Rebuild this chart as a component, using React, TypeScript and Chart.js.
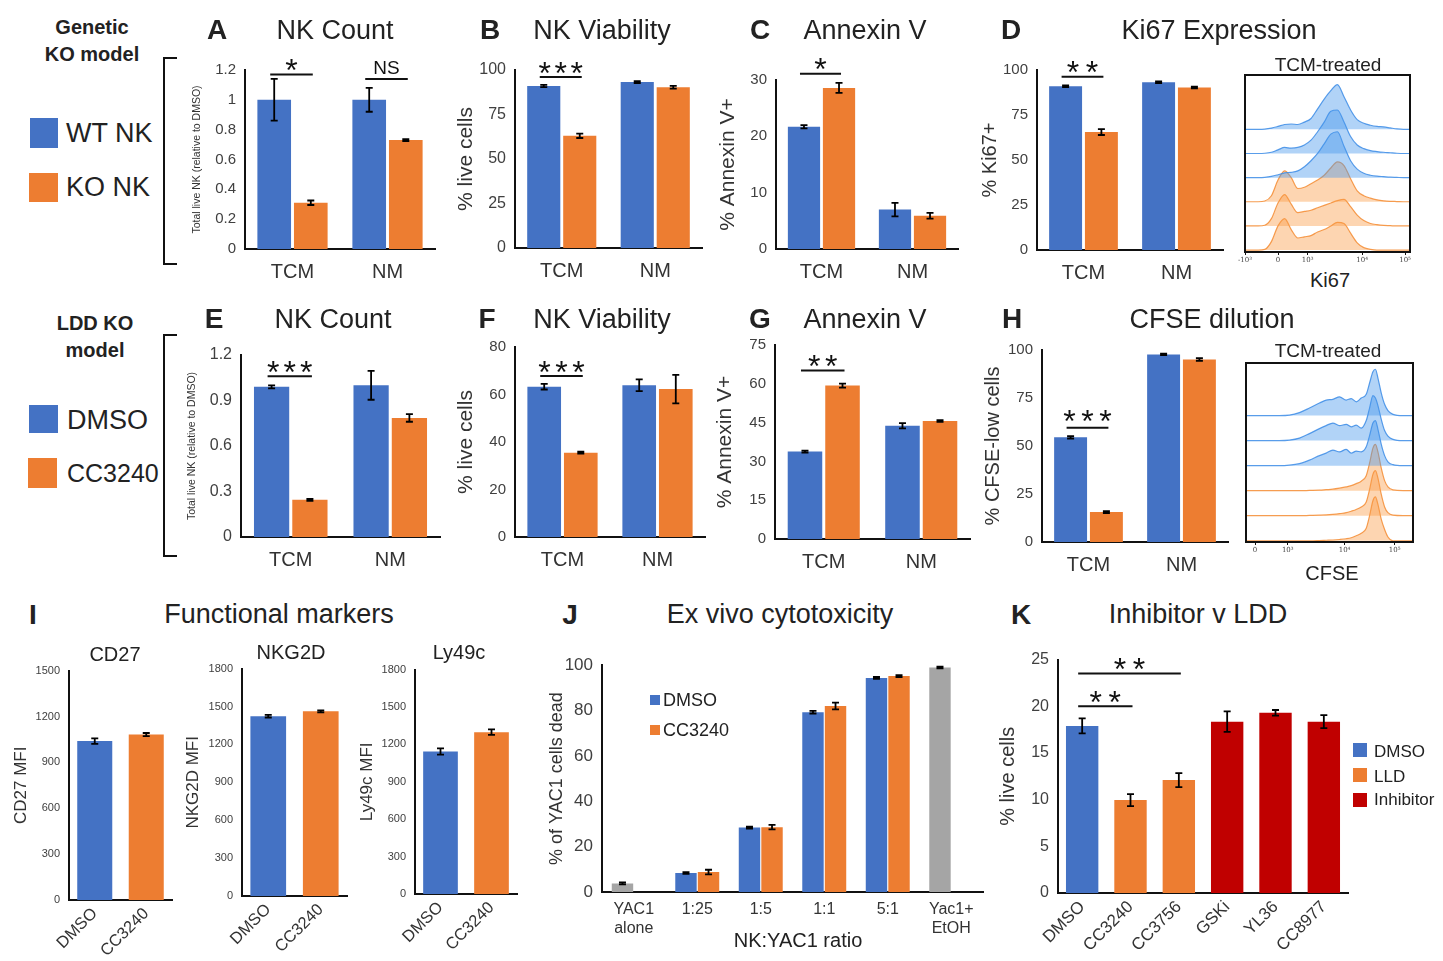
import React, { useEffect, useRef } from "react";
import { Chart, registerables } from "chart.js";

Chart.register(...registerables);
const FONT = "'Liberation Sans', Arial, Helvetica, sans-serif";
Chart.defaults.font.family = FONT;

const BLUE = "#4472C4";
const ORANGE = "#ED7D31";
const RED = "#C00000";
const GRAY = "#A5A5A5";
const INK = "#222222";
const TICK = "#404040";

// ---------------- data ----------------
const condCats = ["TCM", "NM"];

// A – NK count (genetic KO)
const aWT = [1.0, 1.0];
const aWTErr = [0.14, 0.08];
const aKO = [0.31, 0.73];
const aKOErr = [0.015, 0.006];
// B – NK viability
const bWT = [91, 93.2];
const bWTErr = [0.6, 0.5];
const bKO = [63, 90.3];
const bKOErr = [1.2, 0.8];
// C – Annexin V
const cWT = [21.7, 7.0];
const cWTErr = [0.3, 1.2];
const cKO = [28.6, 5.9];
const cKOErr = [0.9, 0.5];
// D – Ki67
const dWT = [91, 93.2];
const dWTErr = [0.5, 0.5];
const dKO = [65.5, 90.3];
const dKOErr = [1.6, 0.5];
// E – NK count (LDD)
const eDMSO = [0.99, 1.0];
const eDMSOErr = [0.01, 0.095];
const eCC = [0.245, 0.785];
const eCCErr = [0.006, 0.025];
// F – NK viability
const fDMSO = [63.3, 63.9];
const fDMSOErr = [1.2, 2.5];
const fCC = [35.5, 62.3];
const fCCErr = [0.4, 6.0];
// G – Annexin V
const gDMSO = [33.8, 43.8];
const gDMSOErr = [0.4, 1.0];
const gCC = [59.3, 45.6];
const gCCErr = [0.8, 0.3];
// H – CFSE-low
const hDMSO = [54.5, 97.7];
const hDMSOErr = [0.6, 0.4];
const hCC = [15.6, 95.1];
const hCCErr = [0.5, 0.7];
// I – functional markers
const markerCats = ["DMSO", "CC3240"];
const cd27 = [1039, 1082];
const cd27Err = [18, 10];
const nkg2d = [1423, 1462];
const nkg2dErr = [10, 8];
const ly49c = [1143, 1298];
const ly49cErr = [25, 22];
// J – cytotoxicity (first and last entries of jDMSO are the controls, drawn grey)
const ratioCats: (string | string[])[] = [["YAC1", "alone"], "1:25", "1:5", "1:1", "5:1", ["Yac1+", "EtOH"]];
const jDMSO = [3.8, 8.4, 28.4, 79.3, 94.4, 99.0];
const jDMSOErr = [0.4, 0.4, 0.4, 0.6, 0.4, 0.4];
const jCC = [null, 8.8, 28.6, 82.0, 95.2, null];
const jCCErr = [null, 1.0, 1.0, 1.5, 0.4, null];
const jColors = [GRAY, BLUE, BLUE, BLUE, BLUE, GRAY];
// K – inhibitor v LDD
const kCats = ["DMSO", "CC3240", "CC3756", "GSKi", "YL36", "CC8977"];
const kVals = [17.9, 9.95, 12.1, 18.35, 19.3, 18.35];
const kErr = [0.8, 0.65, 0.75, 1.1, 0.3, 0.7];
const kColors = [BLUE, ORANGE, ORANGE, RED, RED, RED];

// Histograms (display channel 0..100, heights in row units)
const ki67X = [0, 8, 12, 16, 20, 24, 28, 32, 36, 40, 44, 48, 52, 56, 60, 64, 68, 72, 76, 80, 84, 88, 92, 96, 100];
const ki67Blue1 = [0, 0, 0.01, 0.05, 0.12, 0.2, 0.22, 0.2, 0.3, 0.45, 0.85, 1.25, 1.6, 1.85, 1.35, 0.8, 0.4, 0.25, 0.17, 0.12, 0.1, 0.06, 0.02, 0, 0];
const ki67Blue2 = [0, 0, 0.01, 0.05, 0.15, 0.25, 0.22, 0.25, 0.35, 0.55, 0.9, 1.3, 1.75, 1.8, 1.3, 0.7, 0.35, 0.2, 0.12, 0.08, 0.05, 0.03, 0.01, 0, 0];
const ki67Blue3 = [0, 0, 0.01, 0.05, 0.12, 0.2, 0.22, 0.28, 0.45, 0.7, 1.0, 1.4, 1.8, 1.9, 1.3, 0.7, 0.35, 0.18, 0.1, 0.06, 0.04, 0.02, 0.01, 0, 0];
const ki67Orange1 = [0, 0, 0.03, 0.25, 0.9, 1.28, 1.0, 0.55, 0.6, 0.75, 0.9, 1.1, 1.4, 1.65, 1.5, 0.95, 0.45, 0.25, 0.15, 0.08, 0.04, 0.02, 0.01, 0, 0];
const ki67Orange2 = [0, 0, 0.03, 0.3, 0.95, 1.3, 0.9, 0.55, 0.6, 0.65, 0.75, 0.85, 0.95, 1.05, 1.1, 0.8, 0.45, 0.22, 0.1, 0.05, 0.02, 0.01, 0, 0, 0];
const ki67Orange3 = [0, 0, 0.03, 0.35, 1.0, 1.3, 0.85, 0.5, 0.55, 0.6, 0.75, 0.85, 1.0, 1.15, 1.1, 0.7, 0.3, 0.1, 0.03, 0, 0, 0, 0, 0, 0];
const ki67TickPos = [0, 20, 38, 71, 97];
const ki67TickLabels = ["-10³", "0", "10³", "10⁴", "10⁵"];

const cfseX = [0, 10, 20, 26, 32, 38, 44, 48, 52, 56, 60, 63, 66, 69, 72, 74, 76, 77.5, 79, 81, 83, 85, 88, 94, 100];
const cfseBlue1 = [0, 0, 0, 0.02, 0.12, 0.3, 0.5, 0.62, 0.65, 0.75, 0.62, 0.68, 0.55, 0.7, 0.85, 1.3, 1.75, 1.85, 1.5, 0.9, 0.45, 0.2, 0.05, 0, 0];
const cfseBlue2 = [0, 0, 0, 0.02, 0.1, 0.28, 0.48, 0.6, 0.7, 0.6, 0.65, 0.55, 0.62, 0.5, 0.8, 1.3, 1.8, 1.7, 1.4, 0.85, 0.4, 0.18, 0.05, 0, 0];
const cfseBlue3 = [0, 0, 0, 0.02, 0.08, 0.22, 0.4, 0.5, 0.62, 0.55, 0.65, 0.5, 0.58, 0.55, 0.75, 1.2, 1.7, 1.8, 1.45, 0.85, 0.4, 0.15, 0.04, 0, 0];
const cfseOrange1 = [0, 0, 0, 0, 0, 0.01, 0.02, 0.04, 0.06, 0.1, 0.15, 0.2, 0.28, 0.38, 0.6, 1.1, 1.7, 1.85, 1.55, 0.9, 0.4, 0.15, 0.03, 0, 0];
const cfseOrange2 = [0, 0, 0, 0, 0, 0.01, 0.02, 0.03, 0.05, 0.08, 0.12, 0.18, 0.25, 0.35, 0.55, 1.05, 1.65, 1.8, 1.5, 0.85, 0.35, 0.12, 0.02, 0, 0];
const cfseOrange3 = [0, 0, 0, 0, 0, 0, 0.01, 0.02, 0.03, 0.05, 0.08, 0.12, 0.2, 0.3, 0.5, 1.0, 1.6, 1.75, 1.45, 0.85, 0.45, 0.15, 0, 0, 0];
const cfseTickPos = [5.4, 25, 59, 89];
const cfseTickLabels = ["0", "10³", "10⁴", "10⁵"];

// ---------------- types ----------------
type DS = { data: (number | null)[]; errors: (number | null)[]; colors: string | string[] };
type Sig = { c1: number; d1: number; c2: number; d2: number; v: number; stars?: number; text?: string; fs?: number; gap?: number; spacing?: number };
type BarSpec = {
  plot: [number, number, number, number];
  yTitle: string;
  yTitleX: number;
  yTitleSize: number;
  min: number;
  max: number;
  step: number;
  tickSize: number;
  cats: (string | string[])[];
  catSize: number;
  catPad: number;
  xH: number;
  rotate?: boolean;
  datasets: DS[];
  catPct: number;
  barPct: number;
  sigs?: Sig[];
  padTop?: number;
};

function fmt(v: number) {
  return String(Number(Number(v).toFixed(2)));
}

function BarChart({ spec }: { spec: BarSpec }) {
  const ref = useRef<HTMLCanvasElement>(null);
  const [L, T, R, B] = spec.plot;
  const padTop = spec.padTop ?? 40;
  const padRight = 8;
  const cl = Math.round(spec.yTitleX - 0.6 * spec.yTitleSize);
  const ct = T - padTop;
  const w = R - cl + padRight;
  const h = B - ct + spec.xH;
  const yW = L - cl;

  useEffect(() => {
    const errPlugin = {
      id: "errbars",
      afterDatasetsDraw(chart: any) {
        const ctx = chart.ctx;
        const ys = chart.scales.y;
        chart.data.datasets.forEach((ds: any, di: number) => {
          const meta = chart.getDatasetMeta(di);
          meta.data.forEach((el: any, i: number) => {
            const v = ds.data[i];
            const e = ds.errors ? ds.errors[i] : null;
            if (v == null || e == null) return;
            const y1 = ys.getPixelForValue(v + e);
            const y2 = ys.getPixelForValue(v - e);
            ctx.save();
            ctx.strokeStyle = "#000";
            ctx.lineWidth = 1.8;
            ctx.beginPath();
            ctx.moveTo(el.x, y1);
            ctx.lineTo(el.x, y2);
            ctx.moveTo(el.x - 3.5, y1);
            ctx.lineTo(el.x + 3.5, y1);
            ctx.moveTo(el.x - 3.5, y2);
            ctx.lineTo(el.x + 3.5, y2);
            ctx.stroke();
            ctx.restore();
          });
        });
      },
    };
    const sigPlugin = {
      id: "sigs",
      afterDraw(chart: any) {
        const ctx = chart.ctx;
        const ys = chart.scales.y;
        (spec.sigs || []).forEach((s) => {
          const x1 = chart.getDatasetMeta(s.d1).data[s.c1].x - 4;
          const x2 = chart.getDatasetMeta(s.d2).data[s.c2].x + 2;
          const y = ys.getPixelForValue(s.v);
          ctx.save();
          ctx.strokeStyle = "#111";
          ctx.lineWidth = 2;
          ctx.beginPath();
          ctx.moveTo(x1, y);
          ctx.lineTo(x2, y);
          ctx.stroke();
          const gap = s.gap ?? 12;
          const cx = (x1 + x2) / 2;
          ctx.fillStyle = "#111";
          ctx.textAlign = "center";
          ctx.textBaseline = "alphabetic";
          if (s.stars) {
            const fs = s.fs ?? 32;
            ctx.font = `${fs}px ${FONT}`;
            const sp = s.spacing ?? 17;
            for (let k = 0; k < s.stars; k++) {
              ctx.fillText("*", cx + (k - (s.stars - 1) / 2) * sp, y - gap + 0.58 * fs);
            }
          } else if (s.text) {
            const fs = s.fs ?? 19;
            ctx.font = `${fs}px ${FONT}`;
            ctx.fillText(s.text, cx, y - gap + 0.36 * fs);
          }
          ctx.restore();
        });
      },
    };
    const chart = new Chart(ref.current as HTMLCanvasElement, {
      type: "bar",
      data: {
        labels: spec.cats as any,
        datasets: spec.datasets.map((d) => ({
          data: d.data as any,
          errors: d.errors,
          backgroundColor: d.colors as any,
          borderWidth: 0,
          categoryPercentage: spec.catPct,
          barPercentage: spec.barPct,
        })) as any,
      },
      options: {
        responsive: false,
        animation: false,
        devicePixelRatio: 1,
        layout: { padding: { top: padTop, right: padRight, left: 0, bottom: 0 } },
        plugins: { legend: { display: false }, tooltip: { enabled: false } },
        scales: {
          x: {
            grid: { display: false, drawTicks: false },
            border: { display: true, color: "#111", width: 2 },
            ticks: {
              color: "#333",
              font: { size: spec.catSize },
              padding: spec.catPad,
              maxRotation: spec.rotate ? 45 : 0,
              minRotation: spec.rotate ? 45 : 0,
              autoSkip: false,
            },
            afterFit: (s: any) => {
              s.height = spec.xH;
            },
          },
          y: {
            min: spec.min,
            max: spec.max,
            grid: { display: false, drawTicks: false },
            border: { display: true, color: "#111", width: 2 },
            ticks: {
              stepSize: spec.step,
              color: TICK,
              font: { size: spec.tickSize },
              padding: 9,
              callback: (v: any) => fmt(v),
            },
            title: {
              display: true,
              text: spec.yTitle,
              color: "#333",
              font: { size: spec.yTitleSize },
              padding: 0,
            },
            afterFit: (s: any) => {
              s.width = yW;
            },
          },
        },
      } as any,
      plugins: [errPlugin, sigPlugin],
    });
    return () => chart.destroy();
  }, []);

  return <canvas ref={ref} width={w} height={h} style={{ position: "absolute", left: cl, top: ct, width: w, height: h }} />;
}

type Curve = { base: number; ys: number[]; color: "blue" | "orange" };
type HistSpec = {
  box: [number, number, number, number];
  xs: number[];
  curves: Curve[];
  ymin: number;
  ymax: number;
  tickPos: number[];
  tickLabels: string[];
};

function HistChart({ spec }: { spec: HistSpec }) {
  const ref = useRef<HTMLCanvasElement>(null);
  const [L, T, R, B] = spec.box;
  const padX = 12;
  const padTop = 4;
  const xH = 16;
  const cl = L - padX;
  const ct = T - padTop;
  const w = R - L + 2 * padX;
  const h = B - T + padTop + xH;

  useEffect(() => {
    const boxPlugin = {
      id: "box",
      afterDraw(chart: any) {
        const a = chart.chartArea;
        const ctx = chart.ctx;
        ctx.save();
        ctx.strokeStyle = "#111";
        ctx.lineWidth = 2;
        ctx.strokeRect(a.left, a.top, a.right - a.left, a.bottom - a.top);
        ctx.restore();
      },
    };
    const chart = new Chart(ref.current as HTMLCanvasElement, {
      type: "line",
      data: {
        datasets: spec.curves.map((c) => ({
          data: spec.xs.map((x, i) => ({ x, y: c.base + c.ys[i] })),
          fill: { value: c.base },
          borderColor: c.color === "blue" ? "rgba(60,140,230,0.85)" : "rgba(245,140,50,0.85)",
          backgroundColor: c.color === "blue" ? "rgba(70,150,235,0.42)" : "rgba(250,155,70,0.42)",
          borderWidth: 1.2,
          pointRadius: 0,
          cubicInterpolationMode: "monotone",
        })) as any,
      },
      options: {
        responsive: false,
        animation: false,
        devicePixelRatio: 1,
        layout: { padding: { top: padTop, left: padX, right: padX, bottom: 0 } },
        plugins: { legend: { display: false }, tooltip: { enabled: false } },
        scales: {
          x: {
            type: "linear",
            min: 0,
            max: 100,
            grid: { drawOnChartArea: false, drawTicks: true, tickLength: 3, color: "#111" },
            border: { display: false },
            afterBuildTicks: (s: any) => {
              s.ticks = spec.tickPos.map((v) => ({ value: v }));
            },
            ticks: {
              color: "#444",
              font: { size: 7, family: "'DejaVu Serif', serif" },
              padding: 1,
              maxRotation: 0,
              autoSkip: false,
              callback: (_v: any, i: number) => spec.tickLabels[i],
            },
            afterFit: (s: any) => {
              s.height = xH;
            },
          },
          y: { display: false, min: spec.ymin, max: spec.ymax },
        },
      } as any,
      plugins: [boxPlugin],
    });
    return () => chart.destroy();
  }, []);

  return <canvas ref={ref} width={w} height={h} style={{ position: "absolute", left: cl, top: ct, width: w, height: h }} />;
}

function Txt(props: { x: number; y: number; s: number; b?: boolean; left?: boolean; children: React.ReactNode }) {
  return (
    <div
      style={{
        position: "absolute",
        left: props.x,
        top: props.y,
        transform: props.left ? "translate(0,-50%)" : "translate(-50%,-50%)",
        fontFamily: FONT,
        fontSize: props.s,
        fontWeight: props.b ? 700 : 400,
        color: INK,
        whiteSpace: "nowrap",
        lineHeight: 1,
      }}
    >
      {props.children}
    </div>
  );
}

function Sq(props: { x: number; y: number; w: number; h: number; c: string }) {
  return <div style={{ position: "absolute", left: props.x, top: props.y, width: props.w, height: props.h, background: props.c }} />;
}

function Bracket(props: { x: number; y: number; h: number }) {
  return (
    <div
      style={{
        position: "absolute",
        left: props.x,
        top: props.y,
        width: 14,
        height: props.h,
        borderLeft: "2px solid #111",
        borderTop: "2px solid #111",
        borderBottom: "2px solid #111",
        boxSizing: "border-box",
      }}
    />
  );
}

const row1Common = { cats: condCats, catSize: 20, catPad: 11, xH: 40, catPct: 0.77, barPct: 0.92 };

const specA: BarSpec = {
  ...row1Common,
  plot: [245, 70, 435, 249],
  yTitle: "Total live NK (relative to DMSO)",
  yTitleX: 197,
  yTitleSize: 10.5,
  min: 0,
  max: 1.2,
  step: 0.2,
  tickSize: 15,
  datasets: [
    { data: aWT, errors: aWTErr, colors: BLUE },
    { data: aKO, errors: aKOErr, colors: ORANGE },
  ],
  sigs: [
    { c1: 0, d1: 0, c2: 0, d2: 1, v: 1.17, stars: 1 },
    { c1: 1, d1: 0, c2: 1, d2: 1, v: 1.14, text: "NS" },
  ],
};
const specB: BarSpec = {
  ...row1Common,
  plot: [515, 70, 702, 248],
  yTitle: "% live cells",
  yTitleX: 467,
  yTitleSize: 21,
  min: 0,
  max: 100,
  step: 25,
  tickSize: 16,
  datasets: [
    { data: bWT, errors: bWTErr, colors: BLUE },
    { data: bKO, errors: bKOErr, colors: ORANGE },
  ],
  sigs: [{ c1: 0, d1: 0, c2: 0, d2: 1, v: 96, stars: 3, spacing: 16 }],
};
const specC: BarSpec = {
  ...row1Common,
  plot: [776, 80, 958, 249],
  yTitle: "% Annexin V+",
  yTitleX: 729,
  yTitleSize: 21,
  min: 0,
  max: 30,
  step: 10,
  tickSize: 15,
  datasets: [
    { data: cWT, errors: cWTErr, colors: BLUE },
    { data: cKO, errors: cKOErr, colors: ORANGE },
  ],
  sigs: [{ c1: 0, d1: 0, c2: 0, d2: 1, v: 31.1, stars: 1 }],
};
const specD: BarSpec = {
  ...row1Common,
  plot: [1037, 70, 1223, 250],
  yTitle: "% Ki67+",
  yTitleX: 990,
  yTitleSize: 20,
  min: 0,
  max: 100,
  step: 25,
  tickSize: 15,
  datasets: [
    { data: dWT, errors: dWTErr, colors: BLUE },
    { data: dKO, errors: dKOErr, colors: ORANGE },
  ],
  sigs: [{ c1: 0, d1: 0, c2: 0, d2: 1, v: 96.3, stars: 2, spacing: 19 }],
};
const specE: BarSpec = {
  ...row1Common,
  plot: [241, 355, 440, 537],
  yTitle: "Total live NK (relative to DMSO)",
  yTitleX: 192,
  yTitleSize: 10.5,
  min: 0,
  max: 1.2,
  step: 0.3,
  tickSize: 16,
  datasets: [
    { data: eDMSO, errors: eDMSOErr, colors: BLUE },
    { data: eCC, errors: eCCErr, colors: ORANGE },
  ],
  sigs: [{ c1: 0, d1: 0, c2: 0, d2: 1, v: 1.06, stars: 3, spacing: 16.5 }],
};
const specF: BarSpec = {
  ...row1Common,
  plot: [515, 347, 705, 537],
  yTitle: "% live cells",
  yTitleX: 467,
  yTitleSize: 21,
  min: 0,
  max: 80,
  step: 20,
  tickSize: 15,
  datasets: [
    { data: fDMSO, errors: fDMSOErr, colors: BLUE },
    { data: fCC, errors: fCCErr, colors: ORANGE },
  ],
  sigs: [{ c1: 0, d1: 0, c2: 0, d2: 1, v: 67.8, stars: 3, spacing: 17 }],
};
const specG: BarSpec = {
  ...row1Common,
  plot: [775, 345, 970, 539],
  yTitle: "% Annexin V+",
  yTitleX: 726,
  yTitleSize: 21,
  min: 0,
  max: 75,
  step: 15,
  tickSize: 15,
  datasets: [
    { data: gDMSO, errors: gDMSOErr, colors: BLUE },
    { data: gCC, errors: gCCErr, colors: ORANGE },
  ],
  sigs: [{ c1: 0, d1: 0, c2: 0, d2: 1, v: 65.1, stars: 2, spacing: 17 }],
};
const specH: BarSpec = {
  ...row1Common,
  plot: [1042, 350, 1228, 542],
  yTitle: "% CFSE-low cells",
  yTitleX: 993,
  yTitleSize: 20,
  min: 0,
  max: 100,
  step: 25,
  tickSize: 15,
  datasets: [
    { data: hDMSO, errors: hDMSOErr, colors: BLUE },
    { data: hCC, errors: hCCErr, colors: ORANGE },
  ],
  sigs: [{ c1: 0, d1: 0, c2: 0, d2: 1, v: 59.5, stars: 3, spacing: 18, gap: 14 }],
};

const markerCommon = { cats: markerCats, catSize: 16.5, catPad: 4, xH: 61, rotate: true, catPct: 1, barPct: 0.68, yTitleSize: 17, tickSize: 11, padTop: 12 };
const specCD27: BarSpec = {
  ...markerCommon,
  plot: [69, 667, 172, 900],
  yTitle: "CD27 MFI",
  yTitleX: 21,
  min: 0,
  max: 1500,
  step: 300,
  datasets: [{ data: cd27, errors: cd27Err, colors: [BLUE, ORANGE] }],
};
const specNKG2D: BarSpec = {
  ...markerCommon,
  plot: [242, 665, 347, 896],
  yTitle: "NKG2D MFI",
  yTitleX: 193,
  min: 0,
  max: 1800,
  step: 300,
  datasets: [{ data: nkg2d, errors: nkg2dErr, colors: [BLUE, ORANGE] }],
};
const specLy49c: BarSpec = {
  ...markerCommon,
  plot: [415, 666, 517, 894],
  yTitle: "Ly49c MFI",
  yTitleX: 367,
  min: 0,
  max: 1800,
  step: 300,
  datasets: [{ data: ly49c, errors: ly49cErr, colors: [BLUE, ORANGE] }],
};
const specJ: BarSpec = {
  plot: [602, 660, 983, 892],
  yTitle: "% of YAC1 cells dead",
  yTitleX: 557,
  yTitleSize: 18,
  min: 0,
  max: 100,
  step: 20,
  tickSize: 17,
  cats: ratioCats,
  catSize: 16,
  catPad: 8,
  xH: 68,
  catPct: 0.71,
  barPct: 0.95,
  padTop: 14,
  datasets: [
    { data: jDMSO, errors: jDMSOErr, colors: jColors },
    { data: jCC, errors: jCCErr, colors: ORANGE },
  ],
};
const specK: BarSpec = {
  plot: [1058, 655, 1348, 893],
  yTitle: "% live cells",
  yTitleX: 1008,
  yTitleSize: 20,
  min: 0,
  max: 25,
  step: 5,
  tickSize: 16,
  cats: kCats,
  catSize: 17,
  catPad: 4,
  xH: 68,
  rotate: true,
  catPct: 1,
  barPct: 0.67,
  padTop: 14,
  datasets: [{ data: kVals, errors: kErr, colors: kColors }],
  sigs: [
    { c1: 0, d1: 0, c2: 1, d2: 0, v: 20.0, stars: 2, spacing: 19 },
    { c1: 0, d1: 0, c2: 2, d2: 0, v: 23.5, stars: 2, spacing: 19 },
  ],
};

const histKi67: HistSpec = {
  box: [1245, 75, 1410, 252],
  xs: ki67X,
  curves: [
    { base: 5, ys: ki67Blue1, color: "blue" },
    { base: 4, ys: ki67Blue2, color: "blue" },
    { base: 3, ys: ki67Blue3, color: "blue" },
    { base: 2, ys: ki67Orange1, color: "orange" },
    { base: 1, ys: ki67Orange2, color: "orange" },
    { base: 0, ys: ki67Orange3, color: "orange" },
  ],
  ymin: -0.08,
  ymax: 7.25,
  tickPos: ki67TickPos,
  tickLabels: ki67TickLabels,
};
const histCFSE: HistSpec = {
  box: [1246, 363, 1413, 542],
  xs: cfseX,
  curves: [
    { base: 5, ys: cfseBlue1, color: "blue" },
    { base: 4, ys: cfseBlue2, color: "blue" },
    { base: 3, ys: cfseBlue3, color: "blue" },
    { base: 2, ys: cfseOrange1, color: "orange" },
    { base: 1, ys: cfseOrange2, color: "orange" },
    { base: 0, ys: cfseOrange3, color: "orange" },
  ],
  ymin: -0.05,
  ymax: 7.1,
  tickPos: cfseTickPos,
  tickLabels: cfseTickLabels,
};

export default function App() {
  return (
    <div style={{ position: "absolute", left: 0, top: 0, width: 1443, height: 961, background: "#fff", overflow: "hidden" }}>
      <BarChart spec={specA} />
      <BarChart spec={specB} />
      <BarChart spec={specC} />
      <BarChart spec={specD} />
      <HistChart spec={histKi67} />
      <BarChart spec={specE} />
      <BarChart spec={specF} />
      <BarChart spec={specG} />
      <BarChart spec={specH} />
      <HistChart spec={histCFSE} />
      <BarChart spec={specCD27} />
      <BarChart spec={specNKG2D} />
      <BarChart spec={specLy49c} />
      <BarChart spec={specJ} />
      <BarChart spec={specK} />

      {/* Row 1 */}
      <Txt x={92} y={27} s={20} b>Genetic</Txt>
      <Txt x={92} y={54} s={20} b>KO model</Txt>
      <Bracket x={163} y={57} h={208} />
      <Sq x={30} y={118} w={28} h={30} c={BLUE} />
      <Txt x={66} y={133} s={27} left>WT NK</Txt>
      <Sq x={29} y={173} w={29} h={29} c={ORANGE} />
      <Txt x={66} y={187} s={27} left>KO NK</Txt>
      <Txt x={217} y={30} s={28} b>A</Txt>
      <Txt x={335} y={30} s={27}>NK Count</Txt>
      <Txt x={490} y={30} s={28} b>B</Txt>
      <Txt x={602} y={30} s={27}>NK Viability</Txt>
      <Txt x={760} y={30} s={28} b>C</Txt>
      <Txt x={865} y={30} s={27}>Annexin V</Txt>
      <Txt x={1011} y={30} s={28} b>D</Txt>
      <Txt x={1219} y={30} s={27}>Ki67 Expression</Txt>
      <Txt x={1328} y={64} s={19}>TCM-treated</Txt>
      <Txt x={1330} y={280} s={20}>Ki67</Txt>

      {/* Row 2 */}
      <Txt x={95} y={323} s={20} b>LDD KO</Txt>
      <Txt x={95} y={350} s={20} b>model</Txt>
      <Bracket x={163} y={334} h={223} />
      <Sq x={29} y={405} w={29} h={28} c={BLUE} />
      <Txt x={67} y={420} s={27} left>DMSO</Txt>
      <Sq x={28} y={458} w={29} h={30} c={ORANGE} />
      <Txt x={67} y={473} s={25} left>CC3240</Txt>
      <Txt x={214} y={319} s={28} b>E</Txt>
      <Txt x={333} y={319} s={27}>NK Count</Txt>
      <Txt x={487} y={319} s={28} b>F</Txt>
      <Txt x={602} y={319} s={27}>NK Viability</Txt>
      <Txt x={760} y={319} s={28} b>G</Txt>
      <Txt x={865} y={319} s={27}>Annexin V</Txt>
      <Txt x={1012} y={319} s={28} b>H</Txt>
      <Txt x={1212} y={319} s={27}>CFSE dilution</Txt>
      <Txt x={1328} y={350} s={19}>TCM-treated</Txt>
      <Txt x={1332} y={573} s={20}>CFSE</Txt>

      {/* Row 3 */}
      <Txt x={33} y={615} s={28} b>I</Txt>
      <Txt x={279} y={614} s={27}>Functional markers</Txt>
      <Txt x={115} y={654} s={20}>CD27</Txt>
      <Txt x={291} y={652} s={20}>NKG2D</Txt>
      <Txt x={459} y={652} s={20}>Ly49c</Txt>
      <Txt x={570} y={615} s={28} b>J</Txt>
      <Txt x={780} y={614} s={27}>Ex vivo cytotoxicity</Txt>
      <Txt x={798} y={940} s={20}>NK:YAC1 ratio</Txt>
      <Sq x={650} y={695} w={10} h={10} c={BLUE} />
      <Txt x={663} y={700} s={18} left>DMSO</Txt>
      <Sq x={650} y={725} w={10} h={10} c={ORANGE} />
      <Txt x={663} y={730} s={18} left>CC3240</Txt>
      <Txt x={1021} y={615} s={28} b>K</Txt>
      <Txt x={1198} y={614} s={27}>Inhibitor v LDD</Txt>
      <Sq x={1353} y={743} w={14} h={14} c={BLUE} />
      <Txt x={1374} y={751} s={17} left>DMSO</Txt>
      <Sq x={1353} y={768} w={14} h={14} c={ORANGE} />
      <Txt x={1374} y={776} s={17} left>LLD</Txt>
      <Sq x={1353} y={793} w={14} h={14} c={RED} />
      <Txt x={1374} y={799} s={17} left>Inhibitor</Txt>
    </div>
  );
}
